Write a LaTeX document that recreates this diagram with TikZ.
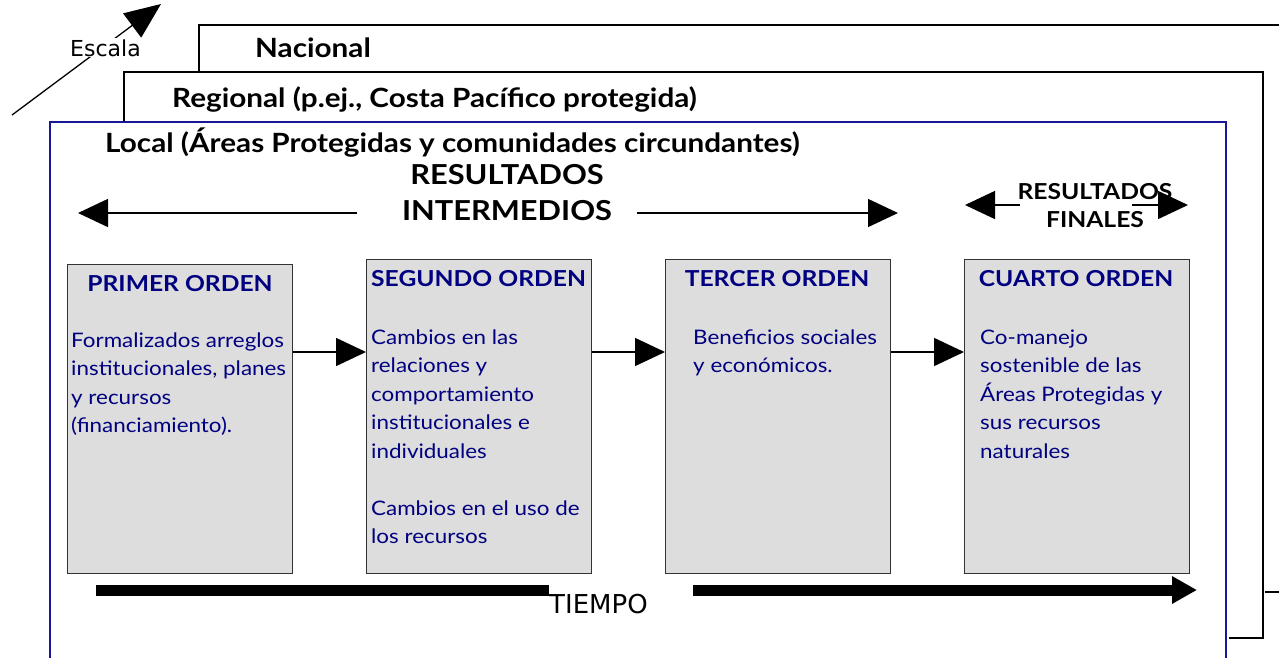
\documentclass[tikz,border=0pt]{standalone}
\usepackage{fontspec}
\setmainfont{Lato}[FakeStretch=1.12]
\newfontfamily\tah{DejaVu Sans}
\usetikzlibrary{arrows.meta}
\definecolor{navy}{HTML}{000080}
\definecolor{frameblue}{HTML}{161696}
\definecolor{boxgray}{HTML}{DDDDDD}
\tikzset{
  frame/.style={draw=black, line width=2pt},
  localframe/.style={draw=frameblue, line width=2.5pt},
  stagebox/.style={draw=black!80, fill=boxgray, line width=1.4pt, minimum width=225pt, minimum height=314pt, anchor=north west, inner sep=0pt},
  stagetitle/.style={font=\bfseries\fontsize{22}{26}\selectfont, text=navy, inner sep=0pt},
  stagebody/.style={font=\fontsize{20}{28.5}\selectfont, text=navy, align=left, anchor=north west, inner sep=0pt},
  scalelabel/.style={font=\bfseries\fontsize{26.5}{30}\selectfont, anchor=base west, inner sep=0pt},
  conn/.style={line width=1.5pt, -{Triangle[length=30pt,width=28pt]}},
  timebar/.style={line width=11pt, -{Triangle[length=25pt,width=26pt]}},
}
\begin{document}
\begin{tikzpicture}[x=1pt,y=-1pt]
\useasboundingbox (0,0) rectangle (1279,657);
\clip (0,0) rectangle (1279,657);
% frames
\draw[frame] (199,72) -- (199,25) -- (1290,25);
\draw[frame] (124,122) -- (124,72) -- (1263,72) -- (1263,638) -- (1229,638);
\draw[frame] (1265,592) -- (1290,592);
\draw[localframe] (50,122) rectangle (1226,690);
% escala
\coordinate (e0) at (12,115);
\coordinate (e1) at (161,4);
\draw[line width=1.3pt, -{Triangle[length=36pt,width=30pt]}] (e0) -- (e1);
\node[font=\tah\fontsize{22}{26}\selectfont, fill=white, inner sep=1pt, anchor=base west] (esc) at (69,56) {Escala};
% scale labels
\node[scalelabel] (nac) at (255,57) {Nacional};
\node[scalelabel] (reg) at (172,107) {Regional (p.ej., Costa Pacífico protegida)};
\node[scalelabel] (loc) at (105,152) {Local (Áreas Protegidas y comunidades circundantes)};
% resultados intermedios
\node[font=\bfseries\fontsize{27.5}{36}\selectfont, align=center, inner sep=0pt] (ri) at (507,193) {RESULTADOS\\INTERMEDIOS};
\coordinate (ril0) at (357,213);
\coordinate (ril1) at (78,213);
\coordinate (rir0) at (637,213);
\coordinate (rir1) at (898,213);
\draw[conn] (ril0) -- (ril1);
\draw[conn] (rir0) -- (rir1);
% resultados finales
\coordinate (rfl0) at (1020,205);
\coordinate (rfl1) at (965,205);
\coordinate (rfr0) at (1132,205);
\coordinate (rfr1) at (1188,205);
\draw[conn] (rfl0) -- (rfl1);
\draw[conn] (rfr0) -- (rfr1);
\node[font=\bfseries\fontsize{22}{28}\selectfont, align=center, inner sep=0pt] (rf) at (1095,206) {RESULTADOS\\FINALES};
% boxes
\node[stagebox, minimum height=309pt] (b1) at (67,264) {};
\node[stagebox] (b2) at (366,259) {};
\node[stagebox] (b3) at (665,259) {};
\node[stagebox] (b4) at (964,259) {};
\node[stagetitle] (t1) at (180,284) {PRIMER ORDEN};
\node[stagetitle, anchor=west] (t2) at (371,279) {SEGUNDO ORDEN};
\node[stagetitle] (t3) at (777,279) {TERCER ORDEN};
\node[stagetitle] (t4) at (1076,279) {CUARTO ORDEN};
\node[stagebody] (d1) at (71,327) {\strut Formalizados arreglos\\institucionales, planes\\y recursos\\(financiamiento).};
\node[stagebody] (d2) at (371,324) {\strut Cambios en las\\relaciones y\\comportamiento\\institucionales e\\individuales\\[28.5pt]Cambios en el uso de\\los recursos};
\node[stagebody] (d3) at (693,324) {\strut Beneficios sociales\\y económicos.};
\node[stagebody] (d4) at (980,324) {\strut Co-manejo\\sostenible de las\\Áreas Protegidas y\\sus recursos\\naturales};
% connectors
\coordinate (a12) at ([yshift=-93pt]b2.north west);
\coordinate (a23) at ([yshift=-93pt]b3.north west);
\coordinate (a34) at ([yshift=-93pt]b4.north west);
\draw[conn] (b1.east |- a12) -- (a12);
\draw[conn] (b2.east |- a23) -- (a23);
\draw[conn] (b3.east |- a34) -- (a34);
% tiempo
\node[font=\tah\fontsize{26}{30}\selectfont, inner sep=0pt, anchor=base west] (tiempo) at (549,613) {TIEMPO};
\coordinate (tb0) at (96,590);
\coordinate (tb1) at (693,590);
\coordinate (tb2) at (1197,590);
\draw[line width=11pt] (tb0) -- (tb0 -| tiempo.west);
\draw[timebar] (tb1) -- (tb2);
\end{tikzpicture}
\end{document}
